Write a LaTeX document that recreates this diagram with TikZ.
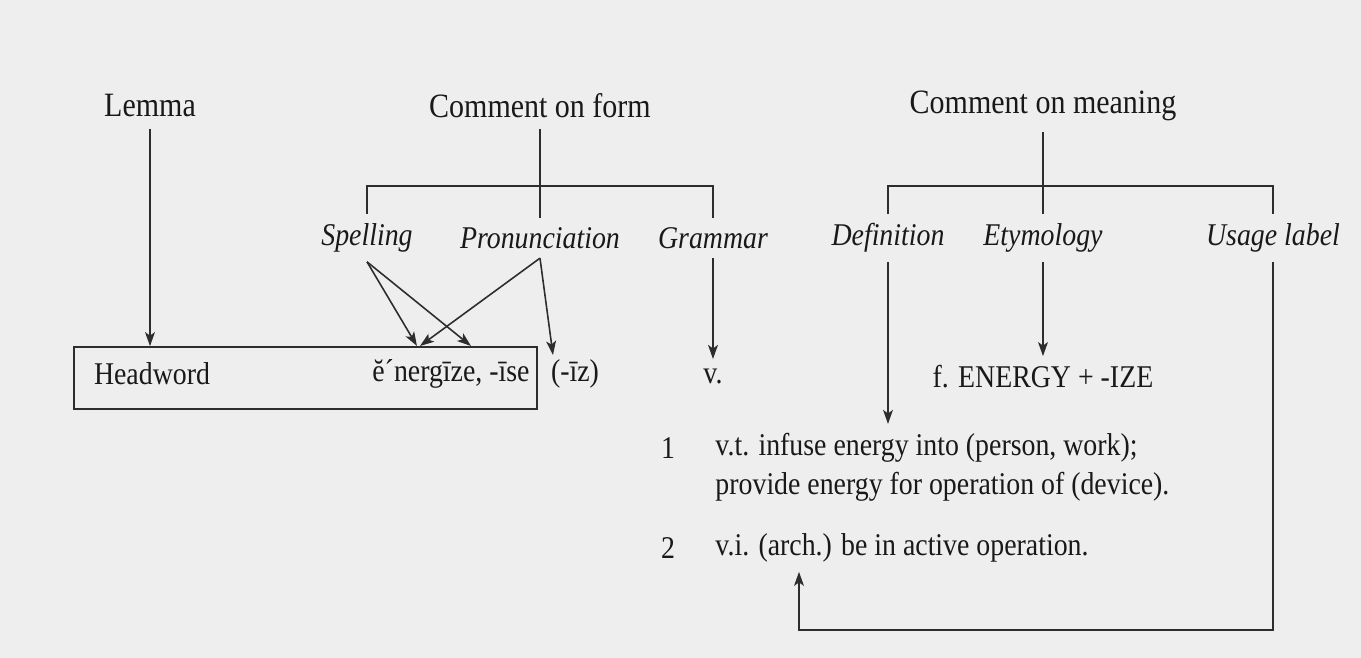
\documentclass[tikz,border=0pt]{standalone}
\usepackage{fontspec}
\setmainfont{Liberation Serif}[FakeStretch=0.88]
\usetikzlibrary{arrows.meta, positioning, calc}

\begin{document}
\begin{tikzpicture}[
	titolo/.style={font=\fontsize{9.7}{11}\selectfont, text=tinta, inner sep=3pt},
	voce/.style={font=\fontsize{9}{11}\selectfont\itshape, text=tinta, inner sep=2.5pt},
	testo/.style={font=\fontsize{9}{11}\selectfont, text=tinta, inner sep=2.5pt},
	tratto/.style={draw=linea, line width=0.45pt},
	freccia/.style={tratto, -{Stealth[length=4pt,width=2.8pt,inset=1pt]}}
	]
	
	% Definizione dei colori
	\definecolor{carta}{RGB}{238,238,238}
	\definecolor{linea}{RGB}{45,45,45}
	\definecolor{tinta}{RGB}{25,25,25}
	
	% Sfondo
	\fill[carta] (0,0) rectangle (13.61,-6.58);
	
	% Intestazioni
	\node[titolo] (lemma) at (1.50,-1.06) {Lemma};
	\node[titolo] (cform) at (5.40,-1.06) {Comment on form};
	\node[titolo] (cmean) at (10.43,-1.06) {Comment on meaning};
	
	% Voci sotto le intestazioni
	\node[voce] (spell) at (3.67,-2.38) {Spelling};
	\node[voce] (pron) at (5.40,-2.38) {Pronunciation};
	\node[voce] (gram) at (7.13,-2.38) {Grammar};
	\node[voce] (defn) at (8.88,-2.38) {Definition};
	\node[voce] (etym) at (10.43,-2.38) {Etymology};
	\node[voce] (usage) at (12.73,-2.38) {Usage label};
	
	% Riga del lemma
	\node[tratto, draw, minimum width=4.63cm, minimum height=0.62cm, inner sep=0pt] (box) at (3.055,-3.78) {};
	\node[testo] (head) at (1.52,-3.74) {Headword};
	\node[testo, anchor=east] (enrg) at (5.39,-3.74) {ĕ´nergīze, -īse};
	\node[testo] (iz) at (5.75,-3.74) {(-īz)};
	\node[testo] (vb) at (7.13,-3.76) {v.};
	\node[testo] (ety) at (10.43,-3.77) {f. ENERGY + -IZE};
	
	% Significati
	\node[testo] (n1) at (6.68,-4.48) {1};
	\node[testo, anchor=west] (s1a) at (7.06,-4.48) {v.t. infuse energy into (person, work);};
	\node[testo, anchor=west] (s1b) at (7.06,-4.87) {provide energy for operation of (device).};
	\node[testo] (n2) at (6.68,-5.48) {2};
	\node[testo, anchor=west] (s2) at (7.06,-5.48) {v.i. (arch.) be in active operation.};
	
	% Punti di appoggio
	\coordinate (bf) at (5.40,-1.86);
	\coordinate (bm) at (10.43,-1.86);
	\coordinate (ts1) at (4.17,-3.46);
	\coordinate (ts2) at (4.71,-3.46);
	\coordinate (tp1) at (4.20,-3.46);
	\coordinate (tp2) at (5.53,-3.55);
	\coordinate (ub) at (7.99,-6.30);
	
	% Parentesi
	\draw[tratto] (cform.south) -- (pron.north);
	\draw[tratto] (spell.north) -- (spell.north |- bf) -| (gram.north);
	\draw[tratto] (cmean.south) -- (etym.north);
	\draw[tratto] (defn.north) -- (defn.north |- bm) -| (usage.north);
	
	% Frecce
	\draw[freccia] (lemma.south) -- (lemma.south |- box.north);
	\draw[freccia] (spell.south) -- (ts1);
	\draw[freccia] (spell.south) -- (ts2);
	\draw[freccia] (pron.south) -- (tp1);
	\draw[freccia] (pron.south) -- (tp2);
	\draw[freccia] (gram.south) -- (vb.north);
	\draw[freccia] (etym.south) -- (ety.north);
	\draw[freccia] (defn.south) -- (defn.south |- s1a.north);
	\draw[freccia] (usage.south) |- (ub) -- (ub |- s2.south);
	
\end{tikzpicture}
\end{document}
